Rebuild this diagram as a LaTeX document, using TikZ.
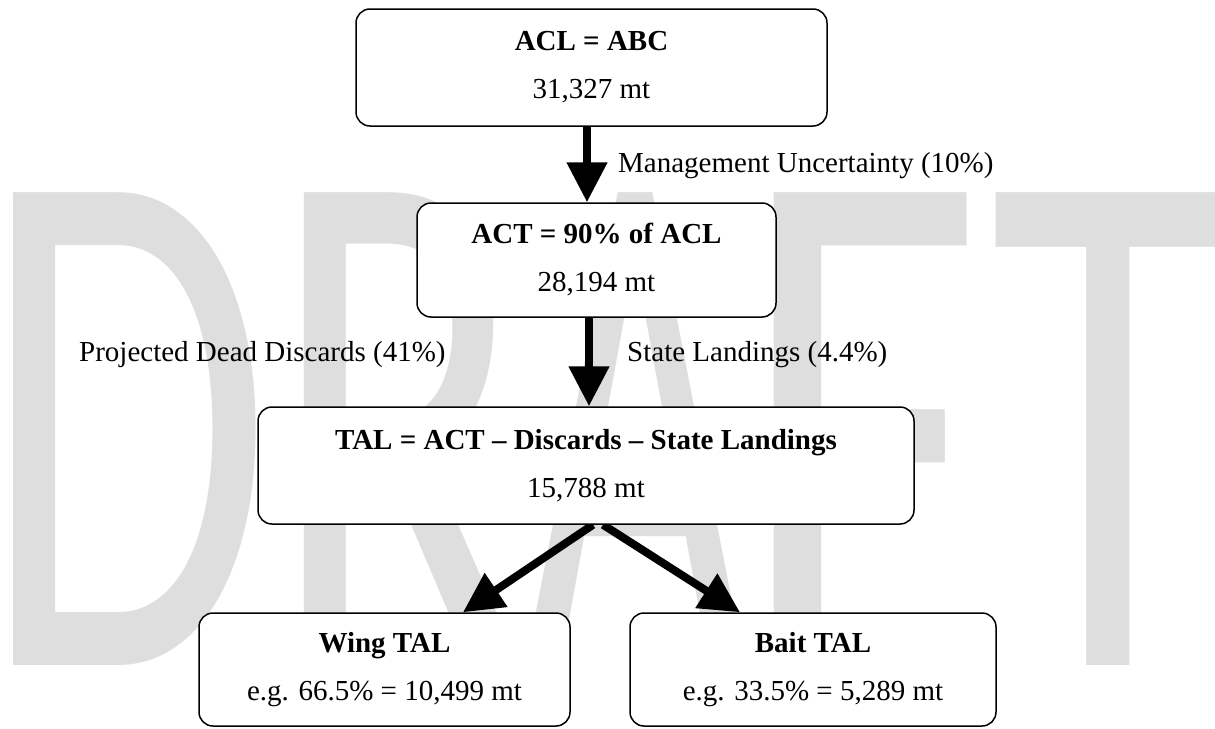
\documentclass[tikz,border=0pt]{standalone}
\usepackage{fontspec}
\setmainfont{Liberation Serif}
\newfontfamily\wmfont{Carlito}
\usetikzlibrary{arrows.meta}
\definecolor{wmgray}{RGB}{222,222,222}
\begin{document}
\begin{tikzpicture}[x=1pt,y=-1pt,
  box/.style={draw=black, line width=1.5pt, rounded corners=14pt, fill=white,
    inner sep=0pt, align=center, font=\fontsize{29}{48}\selectfont},
  lbl/.style={inner sep=0pt, anchor=base west, font=\fontsize{29}{35}\selectfont},
  bigarrow/.style={line width=8pt, -{Triangle[length=40pt,width=39pt]}},
  wm/.style={inner sep=0pt, anchor=base, text=wmgray,
    font=\wmfont\fontsize{737}{737}\selectfont}]
\useasboundingbox (0,0) rectangle (1215,728);
\fill[white] (0,0) rectangle (1215,728);
% watermark
\node[wm] (wD) at (127,665) {\scalebox{0.64}[1]{D}};
\node[wm] (wR) at (399,665) {\scalebox{0.64}[1]{R}};
\node[wm] (wA) at (635,665) {\scalebox{0.52}[1]{A}};
\node[wm] (wF) at (860,665) {\scalebox{0.72}[1]{F}};
\node[wm] (wT) at (1108,665) {\scalebox{0.655}[1]{T}};
% box positions (used by the arrows)
\path (591.5,67.5) node[box, minimum width=471pt, minimum height=117pt, draw=none, fill=none] (ACLp) {};
\path (596.5,260) node[box, minimum width=359pt, minimum height=114pt, draw=none, fill=none] (ACTp) {};
\path (586,465.5) node[box, minimum width=656pt, minimum height=117pt, draw=none, fill=none] (TALp) {};
\path (384.5,669.5) node[box, minimum width=371pt, minimum height=113pt, draw=none, fill=none] (Wingp) {};
\path (813,669.5) node[box, minimum width=366pt, minimum height=113pt, draw=none, fill=none] (Baitp) {};
% arrows
\draw[bigarrow] ([xshift=-4.5pt]ACLp.south) -- ([xshift=-9.5pt]ACTp.north);
\draw[bigarrow] ([xshift=-7.5pt]ACTp.south) -- ([xshift=3pt]TALp.north);
\draw[bigarrow] ([xshift=7pt]TALp.south) -- ([xshift=78.5pt]Wingp.north);
\draw[bigarrow] ([xshift=17pt]TALp.south) -- ([xshift=-73pt]Baitp.north);
% boxes
\node[box, minimum width=471pt, minimum height=117pt] (ACL) at (591.5,67.5)
  {\textbf{ACL = ABC}\\31,327 mt};
\node[box, minimum width=359pt, minimum height=114pt] (ACT) at (596.5,260)
  {\textbf{ACT = 90\% of ACL}\\28,194 mt};
\node[box, minimum width=656pt, minimum height=117pt] (TAL) at (586,465.5)
  {\textbf{TAL = ACT – Discards – State Landings}\\15,788 mt};
\node[box, minimum width=371pt, minimum height=113pt] (Wing) at (384.5,669.5)
  {\textbf{Wing TAL}\\e.g. 66.5\% = 10,499 mt};
\node[box, minimum width=366pt, minimum height=113pt] (Bait) at (813,669.5)
  {\textbf{Bait TAL}\\e.g. 33.5\% = 5,289 mt};
% labels
\node[lbl] (mu) at (618,172) {Management Uncertainty (10\%)};
\node[lbl] (sl) at (627,361) {State Landings (4.4\%)};
\node[lbl] (pd) at (79,361) {Projected Dead Discards (41\%)};
\end{tikzpicture}
\end{document}
